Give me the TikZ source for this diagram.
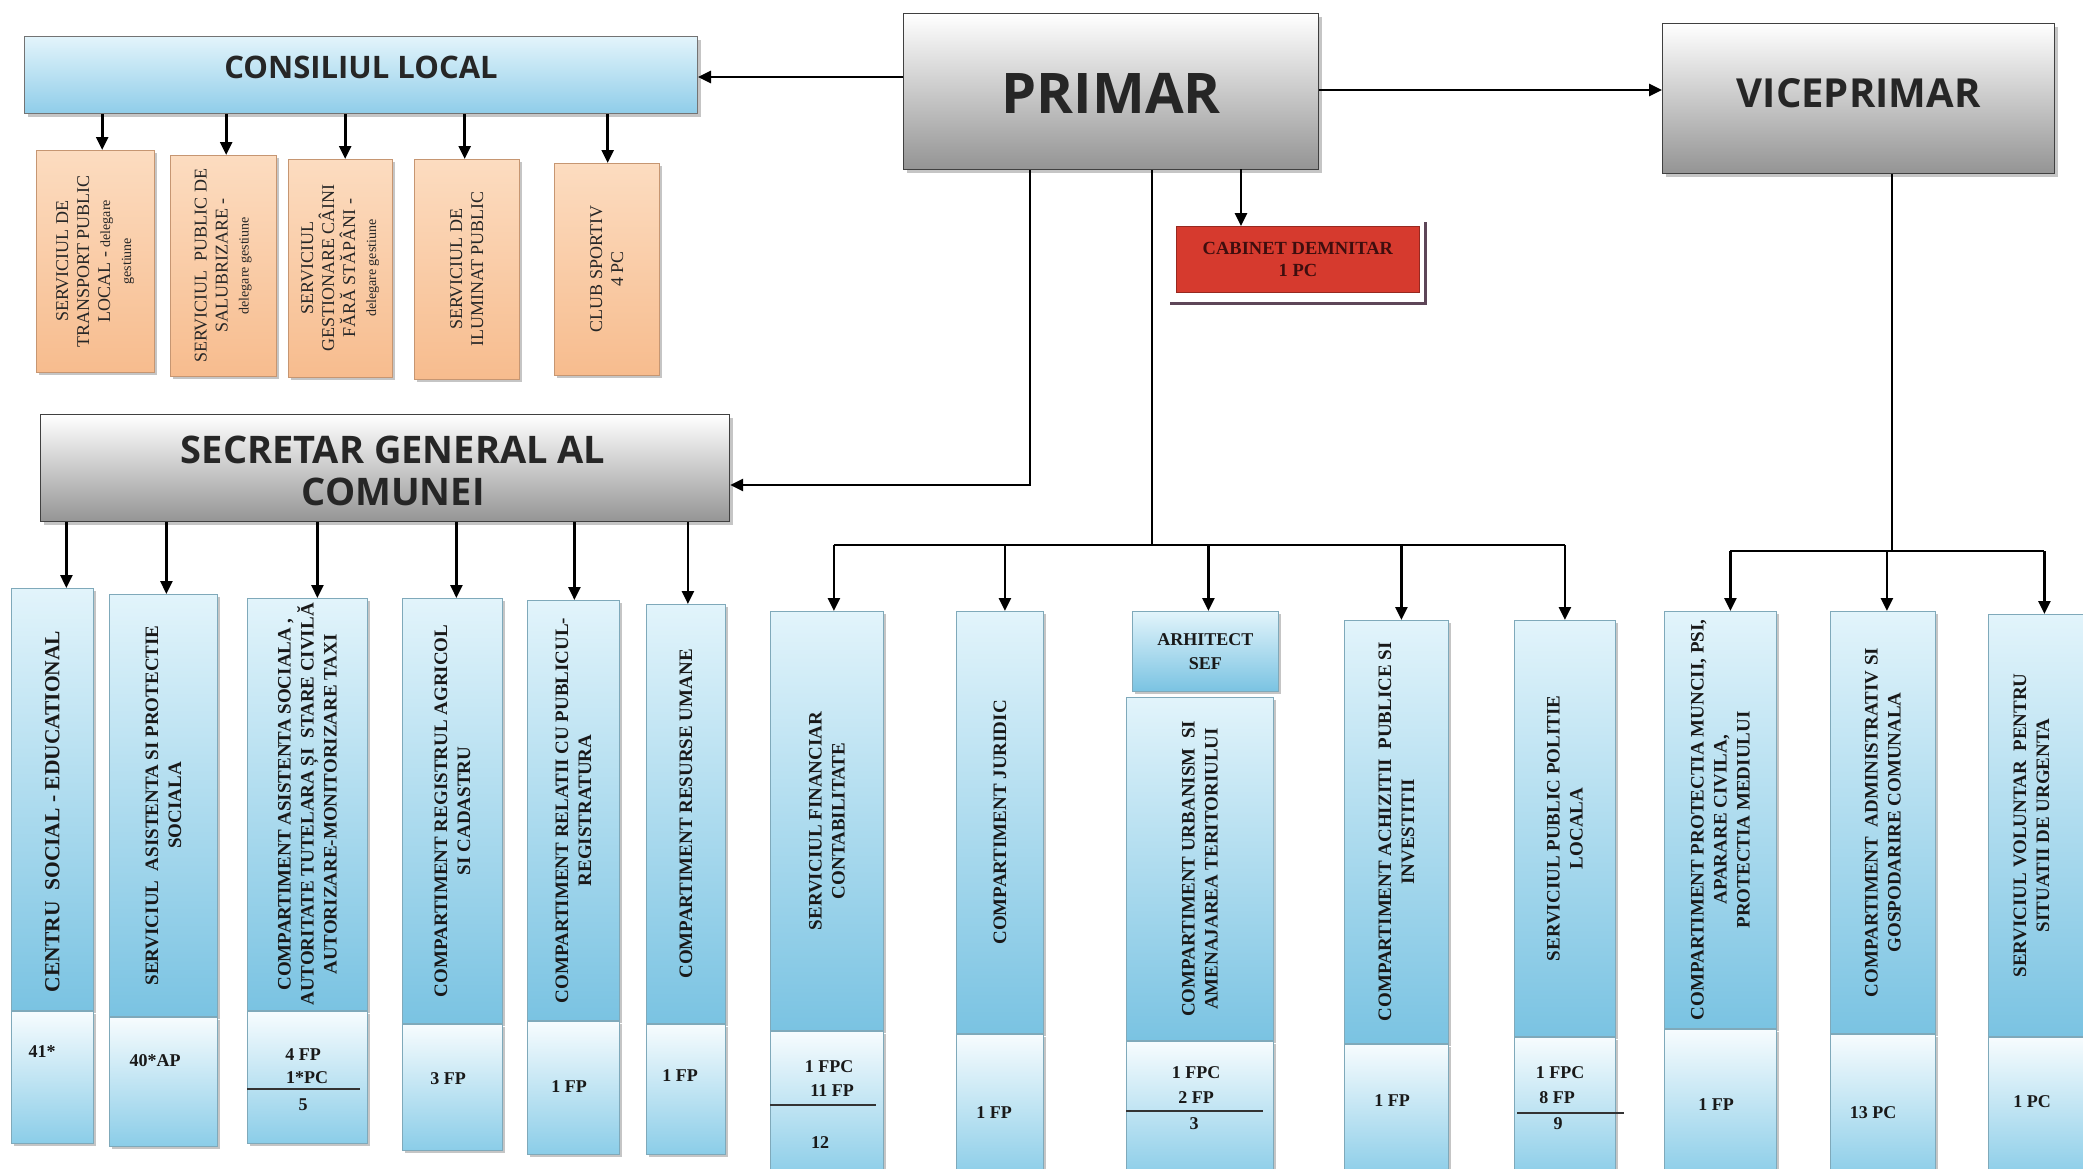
\documentclass[tikz,border=0pt]{standalone}
\usepackage{fontspec}
\setmainfont{Liberation Serif}
\newfontfamily\headfont{Open Sans}
\usetikzlibrary{arrows.meta,shadows,calc}
\definecolor{cltop}{HTML}{E3F4FB}
\definecolor{clbot}{HTML}{8FCDE9}
\definecolor{ortop}{HTML}{FCDCC0}
\definecolor{orbot}{HTML}{F7BC8E}
\definecolor{cutop}{HTML}{E2F4FB}
\definecolor{cubot}{HTML}{7AC3E2}
\definecolor{cdtop}{HTML}{F7FCFE}
\definecolor{cdbot}{HTML}{8BCDE8}
\definecolor{colbd}{HTML}{7FA9BA}
\definecolor{redfill}{HTML}{D63A2E}
\definecolor{redtext}{HTML}{3E0E0E}
\definecolor{cabshadow}{HTML}{5E4658}
\begin{document}
\begin{tikzpicture}[x=1pt,y=-1pt,
  arr/.style={line width=2.6pt,-{Triangle[length=13pt,width=12pt]}},
  ln/.style={line width=2.6pt},
  shad/.style={drop shadow={shadow xshift=3pt,shadow yshift=-3pt,opacity=.45}},
  graybox/.style={draw=black!75,line width=1.2pt,top color=white,bottom color=black!42,shad,inner sep=0pt,anchor=north west},
  bluebar/.style={draw=black!55,line width=1pt,top color=cltop,bottom color=clbot,shad,inner sep=0pt,anchor=north west},
  orbox/.style={draw=orbot!80!black,line width=.4pt,top color=ortop,bottom color=orbot,shad,inner sep=0pt,anchor=north west},
  colup/.style={draw=colbd,line width=.8pt,top color=cutop,bottom color=cubot,shad,inner sep=0pt,anchor=north west},
  coldn/.style={draw=colbd,line width=.8pt,top color=cdtop,bottom color=cdbot,shad,inner sep=0pt,anchor=north west},
  redbox/.style={draw=redfill!70!black,line width=.8pt,fill=redfill,inner sep=0pt,anchor=north west,align=center,text=redtext,font=\fontsize{18.5}{22}\selectfont\bfseries},
  coltxt/.style={rotate=90,align=center,text=black!90,font=\fontsize{19}{23}\selectfont\bfseries},
  ortxt/.style={rotate=90,align=center,text=black!85,font=\fontsize{18}{21}\selectfont},
  cnt/.style={text=black!90,font=\fontsize{18}{21}\selectfont\bfseries,inner sep=0pt},
  uline/.style={line width=1.6pt,black!80}
]
\useasboundingbox[fill=white] (0,0) rectangle (2083,1168);

% ---------- top level ----------
\node[graybox,minimum width=415,minimum height=156] (pr) at (903,13) {};
\node[font=\headfont\bfseries\fontsize{56}{60}\selectfont,text=black!85] (prt) at ($(pr.center)+(0,2)$) {PRIMAR};
\node[graybox,minimum width=392,minimum height=150] (vp) at (1662,23) {};
\node[font=\headfont\bfseries\fontsize{40}{44}\selectfont,text=black!85] (vpt) at ($(vp.center)+(0,-5)$) {VICEPRIMAR};
\node[bluebar,minimum width=673,minimum height=77] (cl) at (24,36) {};
\node[font=\headfont\bfseries\fontsize{31}{34}\selectfont,text=black!85] (clt) at ($(cl.center)+(0,-8)$) {CONSILIUL LOCAL};
\node[redbox,minimum width=243,minimum height=66] (cab) at (1176,226) {CABINET DEMNITAR\\1 PC};
\draw[cabshadow,line width=3pt] ($(cab.north east)+(6,-4)$) |- ($(cab.south west)+(-6,11)$);
\node[graybox,minimum width=689,minimum height=107] (sec) at (40,414) {};
\node[font=\headfont\bfseries\fontsize{38}{42}\selectfont,text=black!85,align=center] (sect) at ($(sec.center)+(8,3)$) {SECRETAR GENERAL AL\\COMUNEI};

\coordinate (hcl) at (800,77);
\draw[arr] (pr.west |- hcl) -- (cl.east |- hcl);
\coordinate (hvp) at (1500,90);
\draw[arr] (pr.east |- hvp) -- (vp.west |- hvp);
\coordinate (cabx) at (1241,169);
\draw[arr] (cabx) -- (cabx |- cab.north);
\coordinate (secj) at (1030,485);
\draw[arr] (pr.south -| secj) -- (secj) -- (secj -| sec.east);

% ---------- consiliul local services ----------
\node[orbox,minimum width=118,minimum height=222] (o1) at (36,150) {};
\node[orbox,minimum width=106,minimum height=221] (o2) at (170,155) {};
\node[orbox,minimum width=104,minimum height=218] (o3) at (288,159) {};
\node[orbox,minimum width=105,minimum height=220] (o4) at (414,159) {};
\node[orbox,minimum width=105,minimum height=212] (o5) at (554,163) {};
\node[ortxt] at (o1.center) {SERVICIUL DE\\TRANSPORT PUBLIC\\LOCAL - {\fontsize{14}{17}\selectfont delegare}\\{\fontsize{14}{17}\selectfont gestiune}};
\node[ortxt] at (o2.center) {SERVICIUL\ \ PUBLIC DE\\SALUBRIZARE -\\{\fontsize{14}{17}\selectfont delegare gestiune}};
\node[ortxt] at (o3.center) {SERVICIUL\\GESTIONARE CÂINI\\FĂRĂ STĂPÂNI -\\{\fontsize{14}{17}\selectfont delegare gestiune}};
\node[ortxt] at (o4.center) {SERVICIUL DE\\ILUMINAT PUBLIC};
\node[ortxt] at (o5.center) {CLUB SPORTIV\\4 PC};
\foreach \o/\dx in {o1/7,o2/3,o3/5,o4/-2,o5/1}{
  \coordinate (t\o) at ($(\o.north)+(\dx,0)$);
  \draw[arr] (t\o |- cl.south) -- (t\o);
}

% ---------- columns under secretar ----------
\node[colup,minimum width=82,minimum height=422] (c1) at (11,588) {};
\node[coldn,minimum width=82,minimum height=132] (c1n) at (c1.south west) {};
\node[colup,minimum width=108,minimum height=422] (c2) at (109,594) {};
\node[coldn,minimum width=108,minimum height=129] (c2n) at (c2.south west) {};
\node[colup,minimum width=120,minimum height=412] (c3) at (247,598) {};
\node[coldn,minimum width=120,minimum height=132] (c3n) at (c3.south west) {};
\node[colup,minimum width=100,minimum height=425] (c4) at (402,598) {};
\node[coldn,minimum width=100,minimum height=126] (c4n) at (c4.south west) {};
\node[colup,minimum width=92,minimum height=420] (c5) at (527,600) {};
\node[coldn,minimum width=92,minimum height=133] (c5n) at (c5.south west) {};
\node[colup,minimum width=79,minimum height=419] (c6) at (646,604) {};
\node[coldn,minimum width=79,minimum height=130] (c6n) at (c6.south west) {};

\node[coltxt,font=\fontsize{21.5}{25}\selectfont\bfseries] at ($(c1.center)+(0,12)$) {CENTRU\ \ SOCIAL - EDUCATIONAL};
\node[coltxt] at (c2.center) {SERVICIUL\ \ ASISTENTA SI PROTECTIE\\SOCIALA};
\node[coltxt] at (c3.center) {COMPARTIMENT ASISTENTA SOCIALA ,\\AUTORITATE TUTELARA ȘI\ \ STARE CIVILĂ\\AUTORIZARE-MONITORIZARE TAXI};
\node[coltxt] at (c4.center) {COMPARTIMENT REGISTRUL AGRICOL\\SI CADASTRU};
\node[coltxt] at (c5.center) {COMPARTIMENT RELATII CU PUBLICUL-\\REGISTRATURA};
\node[coltxt] at (c6.center) {COMPARTIMENT RESURSE UMANE};

\node[cnt] at (42,1052) {41*};
\node[cnt] at (155,1061) {40*AP};
\node[cnt] at (303,1055) {4 FP};
\node[cnt] at (307,1078) {1*PC};
\draw[uline] ($(c3n.north west)+(0,78)$) -- ($(c3n.north east)+(-8,78)$);
\node[cnt] at (303,1105) {5};
\node[cnt] at (448,1079) {3 FP};
\node[cnt] at (569,1087) {1 FP};
\node[cnt] at (680,1076) {1 FP};

\foreach \c/\dx in {c1/14,c2/3,c3/10,c4/4,c5/1,c6/2}{
  \coordinate (t\c) at ($(\c.north)+(\dx,0)$);
  \draw[arr] (t\c |- sec.south) -- (t\c);
}

% ---------- columns under primar ----------
\node[colup,minimum width=113,minimum height=419] (c7) at (770,611) {};
\node[coldn,minimum width=113,minimum height=145] (c7n) at (c7.south west) {};
\node[colup,minimum width=87,minimum height=422] (c8) at (956,611) {};
\node[coldn,minimum width=87,minimum height=142] (c8n) at (c8.south west) {};
\node[colup,minimum width=146,minimum height=80,align=center,text=black!90,font=\fontsize{18}{24}\selectfont\bfseries] (arh) at (1132,611) {ARHITECT\\SEF};
\node[colup,minimum width=147,minimum height=343] (c9) at (1126,697) {};
\node[coldn,minimum width=147,minimum height=135] (c9n) at (c9.south west) {};
\node[colup,minimum width=104,minimum height=423] (c10) at (1344,620) {};
\node[coldn,minimum width=104,minimum height=132] (c10n) at (c10.south west) {};
\node[colup,minimum width=101,minimum height=416] (c11) at (1514,620) {};
\node[coldn,minimum width=101,minimum height=139] (c11n) at (c11.south west) {};

\node[coltxt] at (c7.center) {SERVICIUL FINANCIAR\\CONTABILITATE};
\node[coltxt] at (c8.center) {COMPARTIMENT JURIDIC};
\node[coltxt] at (c9.center) {COMPARTIMENT URBANISM\ \ SI\\AMENAJAREA TERITORIULUI};
\node[coltxt] at (c10.center) {COMPARTIMENT ACHIZITII\ \ PUBLICE SI\\INVESTITII};
\node[coltxt] at (c11.center) {SERVICIUL PUBLIC POLITIE\\LOCALA};

\node[cnt] at (829,1067) {1 FPC};
\node[cnt] at (832,1091) {11 FP};
\draw[uline] ($(c7n.north west)+(0,74)$) -- ($(c7n.north east)+(-8,74)$);
\node[cnt] at (820,1143) {12};
\node[cnt] at (994,1113) {1 FP};
\node[cnt] at (1196,1073) {1 FPC};
\node[cnt] at (1196,1098) {2 FP};
\draw[uline] ($(c9n.north west)+(0,70)$) -- ($(c9n.north east)+(-11,70)$);
\node[cnt] at (1194,1124) {3};
\node[cnt] at (1392,1101) {1 FP};
\node[cnt] at (1560,1073) {1 FPC};
\node[cnt] at (1557,1098) {8 FP};
\draw[uline] ($(c11n.north west)+(3,76)$) -- ($(c11n.north east)+(8,76)$);
\node[cnt] at (1558,1124) {9};

\coordinate (pbus) at (1152,545);
\draw[ln] (pr.south -| pbus) -- (pbus);
\foreach \c/\dx in {c7/7,c8/5,arh/3,c10/5,c11/0}{
  \coordinate (t\c) at ($(\c.north)+(\dx,0)$);
  \draw[arr] (t\c |- pbus) -- (t\c);
}
\draw[ln] (tc7 |- pbus) -- (tc11 |- pbus);

% ---------- columns under viceprimar ----------
\node[colup,minimum width=112,minimum height=417] (c12) at (1664,611) {};
\node[coldn,minimum width=112,minimum height=147] (c12n) at (c12.south west) {};
\node[colup,minimum width=105,minimum height=422] (c13) at (1830,611) {};
\node[coldn,minimum width=105,minimum height=142] (c13n) at (c13.south west) {};
\node[colup,minimum width=110,minimum height=422] (c14) at (1988,614) {};
\node[coldn,minimum width=110,minimum height=139] (c14n) at (c14.south west) {};

\node[coltxt] at (c12.center) {COMPARTIMENT PROTECTIA MUNCII, PSI,\\APARARE CIVILA,\\PROTECTIA MEDIULUI};
\node[coltxt] at (c13.center) {COMPARTIMENT\ \ ADMINISTRATIV SI\\GOSPODARIRE COMUNALA};
\node[coltxt] at ($(c14.center)+(-12,0)$) {SERVICIUL VOLUNTAR\ \ PENTRU\\SITUATII DE URGENTA};

\node[cnt] at (1716,1105) {1 FP};
\node[cnt] at (1873,1113) {13 PC};
\node[cnt] at (2032,1102) {1 PC};

\coordinate (vbus) at (1892,551);
\draw[ln] (vp.south -| vbus) -- (vbus);
\foreach \c/\dx in {c12/10,c13/4,c14/1}{
  \coordinate (t\c) at ($(\c.north)+(\dx,0)$);
  \draw[arr] (t\c |- vbus) -- (t\c);
}
\draw[ln] (tc12 |- vbus) -- (tc14 |- vbus);
\end{tikzpicture}
\end{document}
